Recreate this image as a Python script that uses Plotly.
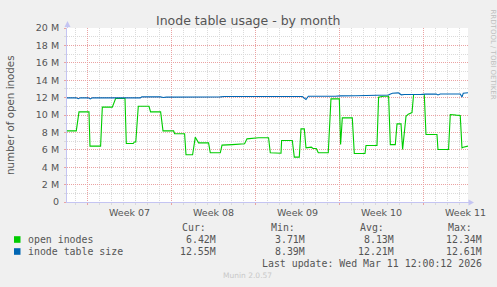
import plotly.graph_objects as go
import pandas as pd

# ---------------- data ----------------
START = "2026-02-06 06:00"
END_HOURS = 802.7

OPEN_HOURS = [0, 18.6, 24.0, 44.0, 46.0, 67.3, 70.7, 90.7, 97.3, 116.1, 118.7, 132.7,
              134.7, 137.7, 142.7, 164.1, 167.3, 187.4, 192.2, 213.4, 215.4, 235.4,
              238.2, 251.4, 256.8, 260.2, 263.4, 283.4, 286.8, 306.9, 310.3, 330.9,
              355.5, 360.3, 383.5, 403.5, 406.9, 428.4, 429.6, 451.0, 455.0, 465.0,
              468.4, 475.0, 478.4, 489.0, 492.4, 499.0, 503.0, 523.0, 528.4, 545.1,
              547.7, 551.1, 571.1, 575.1, 596.5, 598.5, 620.5, 623.7, 633.1, 643.8,
              647.2, 657.2, 660.6, 668.6, 671.8, 678.6, 683.2, 690.6, 693.8, 715.2,
              718.6, 740.6, 742.6, 763.8, 767.2, 779.2, 787.2, 790.6, 793.2, 802.7]
OPEN_M = [8.18, 8.18, 10.36, 10.36, 6.42, 6.42, 10.9, 10.9, 11.9, 11.9, 6.73, 6.73,
          6.9, 6.9, 11.0, 11.0, 10.36, 10.36, 8.18, 8.18, 7.84, 7.84,
          5.43, 5.43, 7.45, 7.1, 6.8, 6.8, 5.66, 5.66, 6.54, 6.6,
          6.7, 7.26, 7.38, 7.38, 5.66, 5.6, 7.07, 7.07, 5.16, 5.16,
          8.41, 8.41, 6.23, 6.3, 6.15, 6.15, 5.66, 5.66, 11.85, 11.85,
          6.6, 9.67, 9.67, 5.58, 5.58, 6.5, 6.5, 12.04, 12.15, 12.15,
          6.6, 6.6, 8.98, 8.98, 6.04, 9.86, 10.1, 10.28, 12.35, 12.35,
          7.76, 7.76, 6.04, 6.04, 10.05, 9.98, 9.95, 6.23, 6.3, 6.42]

TABLE_HOURS = [0, 18.6, 22.6, 26.6, 42.6, 46.6, 50.6, 66.7, 70.7, 90.7, 98.7, 146.7,
               149.7, 186.8, 192.8, 198.8, 236.8, 250.8, 256.8, 306.9, 314.9, 386.9,
               406.9, 426.9, 471.0, 478.4, 483.0, 537.1, 547.1, 577.1, 597.1, 617.1,
               627.1, 643.2, 651.2, 663.2, 669.2, 675.2, 707.2, 717.2, 739.2, 742.6,
               747.2, 767.2, 769.2, 771.2, 787.2, 790.6, 793.2, 802.7]
TABLE_M = [11.97, 11.97, 11.88, 11.97, 11.97, 11.85, 11.97, 11.96, 11.93, 11.94, 11.97, 11.97,
           12.08, 12.08, 12.02, 12.06, 12.06, 12.03, 12.06, 12.08, 12.12, 12.12,
           12.15, 12.12, 12.12, 11.78, 12.15, 12.16, 12.2, 12.22, 12.25, 12.3,
           12.33, 12.3, 12.5, 12.54, 12.32, 12.35, 12.35, 12.4, 12.4, 12.3,
           12.42, 12.42, 12.35, 12.42, 12.42, 12.06, 12.5, 12.55]

Y_TICKS = [0, 2, 4, 6, 8, 10, 12, 14, 16, 18, 20]
Y_TICK_LABELS = ["0", "2 M", "4 M", "6 M", "8 M", "10 M", "12 M", "14 M", "16 M", "18 M", "20 M"]
WEEK_CENTERS = ["2026-02-11 12:00", "2026-02-18 12:00", "2026-02-25 12:00",
                "2026-03-04 12:00", "2026-03-11 12:00"]
WEEK_LABELS = ["Week 07", "Week 08", "Week 09", "Week 10", "Week 11"]
WEEK_START = "2026-02-08"

SERIES_NAMES = ["open inodes", "inode table size"]
SERIES_COLORS = ["#00CC00", "#0066B3"]
STAT_HEADERS = ["Cur:", "Min:", "Avg:", "Max:"]
STATS = [["6.42M", "3.71M", "8.13M", "12.34M"],
         ["12.55M", "8.39M", "12.21M", "12.61M"]]
TITLE = "Inode table usage - by month"
Y_TITLE = "number of open inodes"
LAST_UPDATE = "Last update: Wed Mar 11 12:00:12 2026"
FOOTER = "Munin 2.0.57"
SIDE_TEXT = "RRDTOOL / TOBI OETIKER"

# ---------------- build ----------------
t0 = pd.Timestamp(START)
open_x = [t0 + pd.Timedelta(hours=h) for h in OPEN_HOURS]
table_x = [t0 + pd.Timedelta(hours=h) for h in TABLE_HOURS]
t_end = t0 + pd.Timedelta(hours=END_HOURS)

W, H = 497, 287
ML, MR, MT, MB = 67, 29, 28, 85
PW, PH = W - ML - MR, H - MT - MB


def X(px):
    return (px - ML) / PW


def Y(py):
    return (MT + PH - py) / PH


GRID_MAJOR = "#EAA2A2"
GRID_MINOR = "#DADADA"
AXIS_COL = "#C4C4F2"
TEXT_COL = "#555555"
MONO = "DejaVu Sans Mono"
SANS = "DejaVu Sans"

fig = go.Figure()
fig.add_trace(go.Scatter(x=open_x, y=OPEN_M, mode="lines", name=SERIES_NAMES[0],
                         line=dict(color=SERIES_COLORS[0], width=1.1)))
fig.add_trace(go.Scatter(x=table_x, y=TABLE_M, mode="lines", name=SERIES_NAMES[1],
                         line=dict(color=SERIES_COLORS[1], width=1.1)))

fig.update_layout(
    width=W, height=H, autosize=False,
    margin=dict(l=ML, r=MR, t=MT, b=MB, pad=0),
    paper_bgcolor="#F0F0F0", plot_bgcolor="#FFFFFF",
    showlegend=False, template="none",
    font=dict(family=SANS, size=9.5, color=TEXT_COL),
)

fig.update_xaxes(
    type="date", range=[t0, t_end], showticklabels=False,
    tick0=WEEK_START, dtick=7 * 86400000,
    showgrid=True, gridcolor=GRID_MAJOR, griddash="1px,1px", gridwidth=1,
    ticks="outside", ticklen=2, tickcolor=GRID_MAJOR, tickwidth=1,
    minor=dict(tick0=WEEK_START, dtick=86400000, showgrid=True, gridcolor=GRID_MINOR,
               griddash="1px,1px", gridwidth=1, ticks="outside", ticklen=2,
               tickcolor=GRID_MINOR),
    showline=True, linecolor=AXIS_COL, linewidth=1, zeroline=False, mirror=False,
)
fig.update_yaxes(
    range=[0, 20], tickvals=Y_TICKS, ticktext=Y_TICK_LABELS,
    showgrid=True, gridcolor=GRID_MAJOR, griddash="1px,1px", gridwidth=1,
    ticks="outside", ticklen=2, tickcolor=GRID_MAJOR, ticklabelstandoff=3,
    tickfont=dict(family=SANS, size=9.5, color=TEXT_COL),
    minor=dict(dtick=1, showgrid=True, gridcolor=GRID_MINOR, griddash="1px,1px",
               gridwidth=1, ticks="outside", ticklen=2, tickcolor=GRID_MINOR),
    showline=True, linecolor=AXIS_COL, linewidth=1, zeroline=False,
)

ann = []
# title
ann.append(dict(text=TITLE, x=X(248), y=Y(20), xref="paper", yref="paper",
                xanchor="center", yanchor="middle", showarrow=False,
                font=dict(family=SANS, size=12.5, color=TEXT_COL)))
# y axis title
ann.append(dict(text=Y_TITLE, x=X(10), y=Y(115), xref="paper", yref="paper",
                xanchor="center", yanchor="middle", showarrow=False, textangle=-90,
                font=dict(family=SANS, size=10.3, color=TEXT_COL)))
# side text
ann.append(dict(text=SIDE_TEXT, x=X(492.5), y=Y(54), xref="paper", yref="paper",
                xanchor="center", yanchor="middle", showarrow=False, textangle=90,
                font=dict(family=SANS, size=7, color="#BEBEBE")))
# week labels
for wc, wl in zip(WEEK_CENTERS, WEEK_LABELS):
    ann.append(dict(text=wl, x=wc, y=Y(212.5), xref="x", yref="paper",
                    xanchor="center", yanchor="middle", showarrow=False,
                    font=dict(family=SANS, size=9.5, color=TEXT_COL)))
# legend headers
header_left = [180, 269, 357.5, 446]
for hx, ht in zip(header_left, STAT_HEADERS):
    ann.append(dict(text=ht, x=X(hx), y=Y(227.5), xref="paper", yref="paper",
                    xanchor="left", yanchor="middle", showarrow=False,
                    font=dict(family=MONO, size=9.9, color=TEXT_COL)))
row_y = [239.5, 251.5]
value_right = [218, 307, 395.5, 484]
for i, name in enumerate(SERIES_NAMES):
    ann.append(dict(text=name, x=X(25.5), y=Y(row_y[i]), xref="paper", yref="paper",
                    xanchor="left", yanchor="middle", showarrow=False,
                    font=dict(family=MONO, size=9.9, color=TEXT_COL)))
    for vx, v in zip(value_right, STATS[i]):
        ann.append(dict(text=v, x=X(vx), y=Y(row_y[i]), xref="paper", yref="paper",
                        xanchor="right", yanchor="middle", showarrow=False,
                        font=dict(family=MONO, size=9.9, color=TEXT_COL)))
ann.append(dict(text=LAST_UPDATE, x=X(484), y=Y(263.5), xref="paper", yref="paper",
                xanchor="right", yanchor="middle", showarrow=False,
                font=dict(family=MONO, size=9.9, color=TEXT_COL)))
ann.append(dict(text=FOOTER, x=X(247.5), y=Y(275.5), xref="paper", yref="paper",
                xanchor="center", yanchor="middle", showarrow=False,
                font=dict(family=SANS, size=7.5, color="#C8C8C8")))
fig.update_layout(annotations=ann)

shapes = []
# legend colour squares
for i, c in enumerate(SERIES_COLORS):
    shapes.append(dict(type="rect", xref="paper", yref="paper",
                       x0=X(14), x1=X(20.5), y0=Y(row_y[i] - 3.3), y1=Y(row_y[i] + 3.3),
                       fillcolor=c, line=dict(width=0)))
# axis arrows
shapes.append(dict(type="line", xref="paper", yref="paper", x0=X(67.5), x1=X(67.5),
                   y0=Y(28), y1=Y(24), line=dict(color=AXIS_COL, width=1)))
shapes.append(dict(type="path", xref="paper", yref="paper",
                   path=f"M {X(64.5)} {Y(27)} L {X(67.5)} {Y(21)} L {X(70.5)} {Y(27)} Z",
                   fillcolor=AXIS_COL, line=dict(width=0)))
shapes.append(dict(type="line", xref="paper", yref="paper", x0=X(468), x1=X(470),
                   y0=Y(202.5), y1=Y(202.5), line=dict(color=AXIS_COL, width=1)))
shapes.append(dict(type="path", xref="paper", yref="paper",
                   path=f"M {X(468.5)} {Y(199.5)} L {X(474)} {Y(202.5)} L {X(468.5)} {Y(205.5)} Z",
                   fillcolor=AXIS_COL, line=dict(width=0)))
fig.update_layout(shapes=shapes)

fig.write_html("out.html")
